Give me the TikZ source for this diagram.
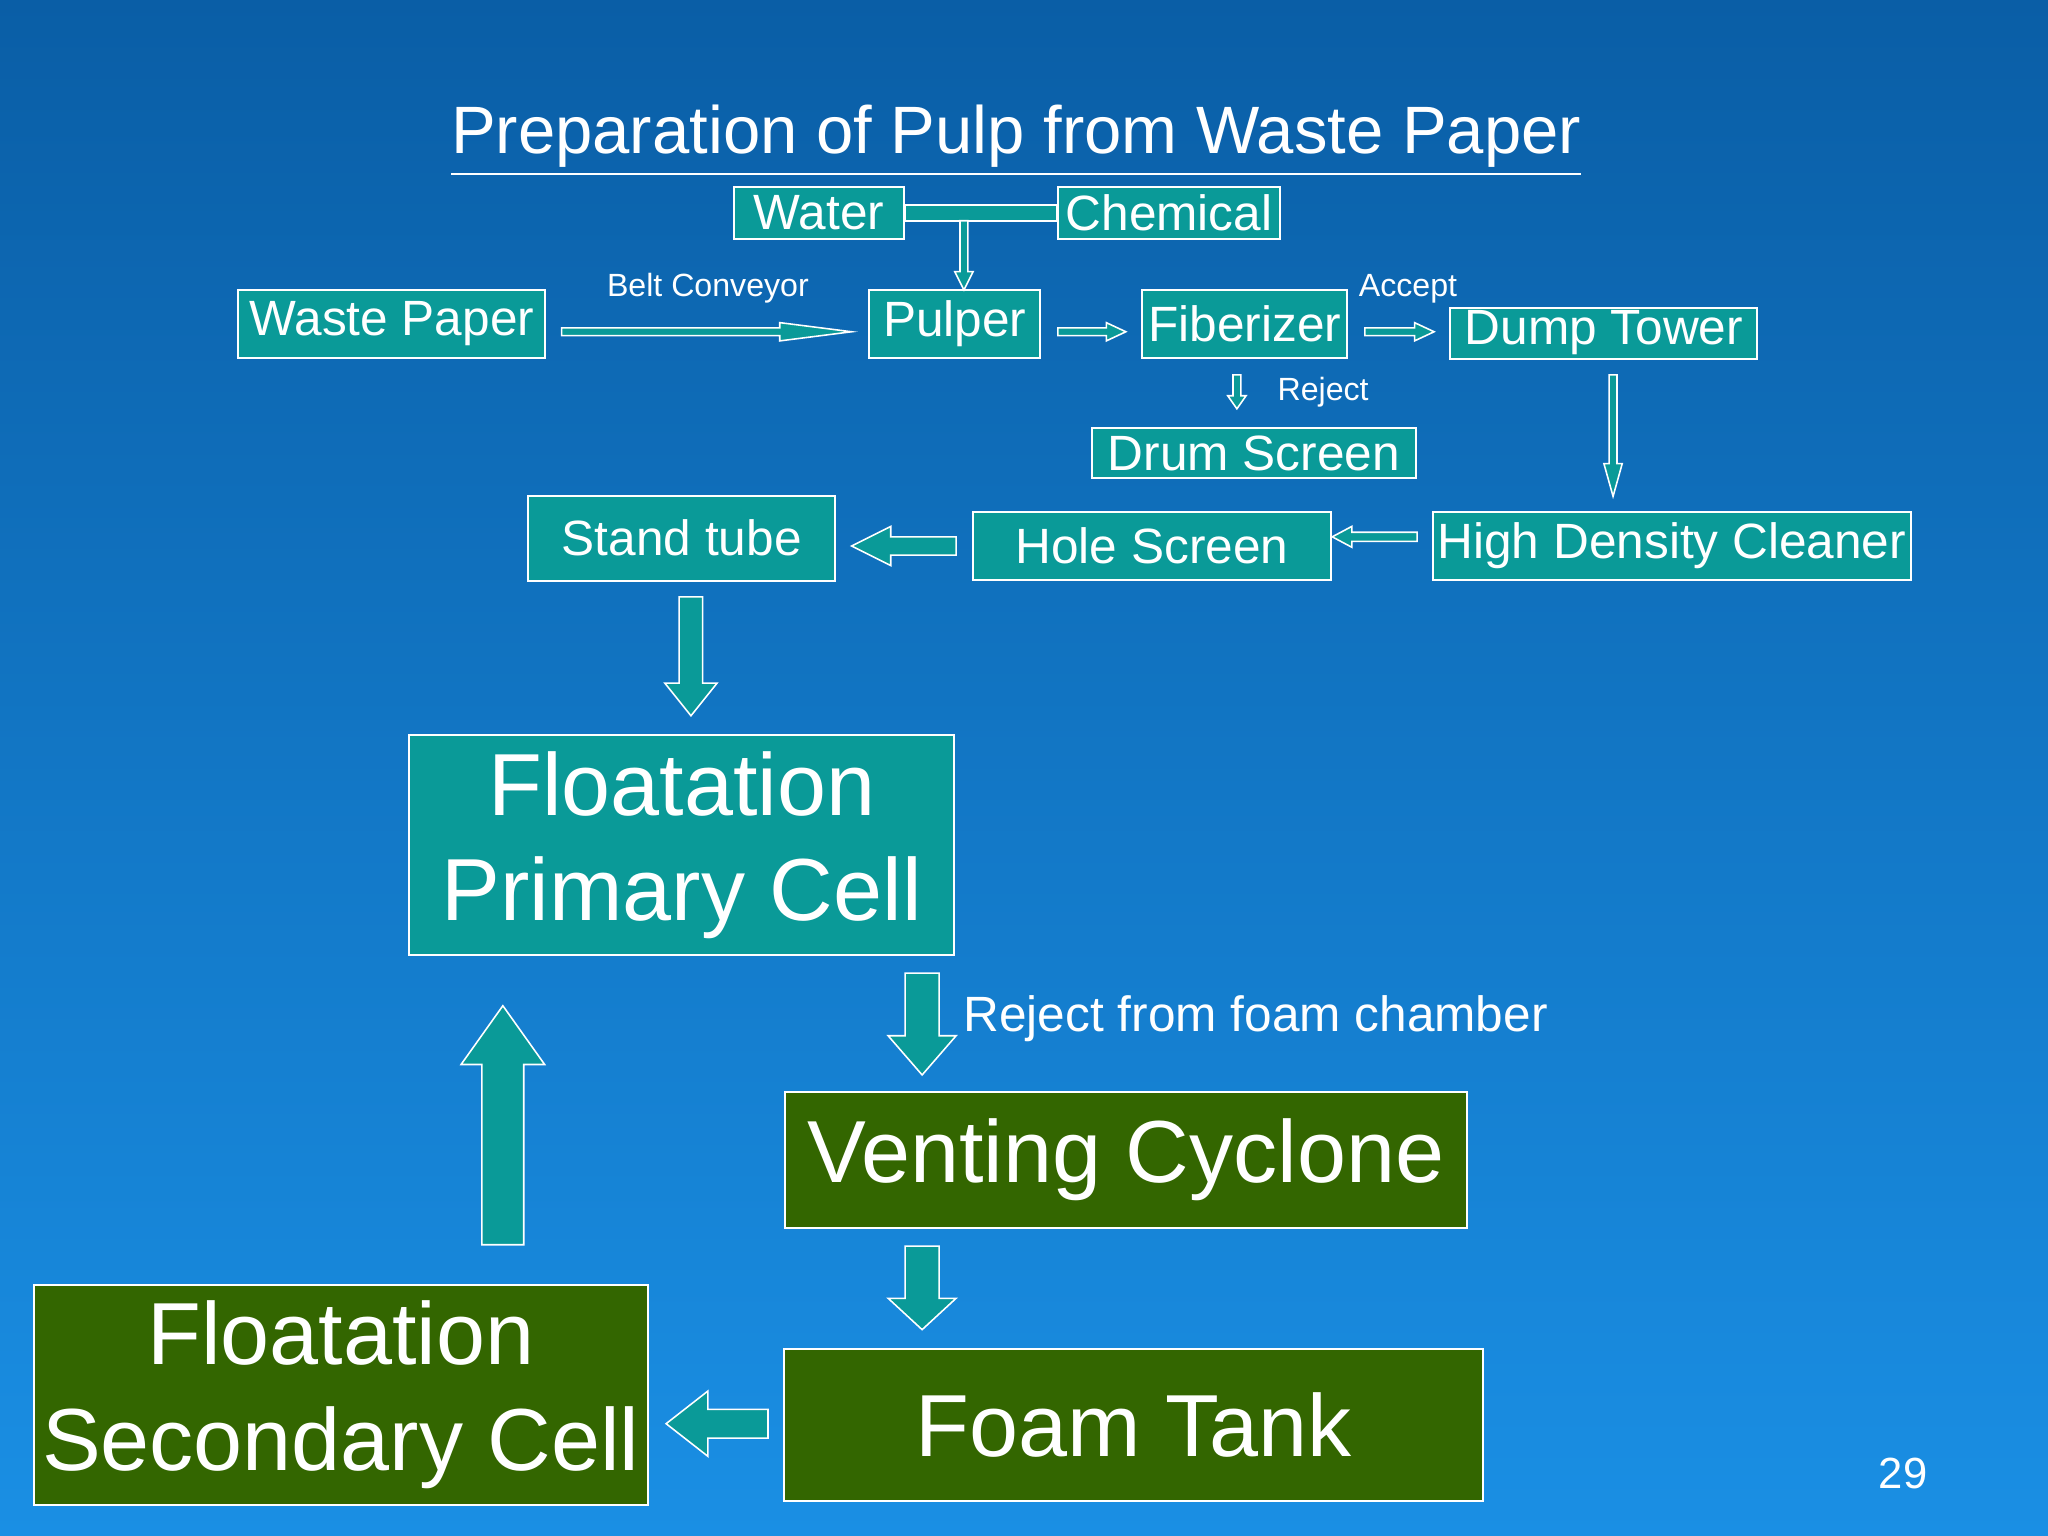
\documentclass[tikz,border=0pt]{standalone}
\usepackage{fontspec}
\setmainfont{Liberation Sans}
\usetikzlibrary{calc}
\definecolor{bgtop}{HTML}{0A5EA6}
\definecolor{bgbot}{HTML}{1A8FE4}
\definecolor{tealbox}{HTML}{0A9A98}
\definecolor{greenbox}{HTML}{336600}
\newcommand\barr[5]{%
 \coordinate (hh) at ($(#2)!#5!(#1)$);
 \draw[arr] ($(#1)!#3!90:(#2)$) -- ($(hh)!#3!90:(#2)$) -- ($(hh)!#4!90:(#2)$) -- (#2) -- ($(hh)!#4!-90:(#2)$) -- ($(hh)!#3!-90:(#2)$) -- ($(#1)!#3!-90:(#2)$) -- cycle;}
\begin{document}
\begin{tikzpicture}[x=0.1mm,y=-0.1mm,
 box/.style={draw=white,line width=0.15mm,fill=tealbox,text=white,inner sep=0pt,font=\fontsize{10.8}{12}\selectfont},
 gbox/.style={box,fill=greenbox},
 big/.style={font=\fontsize{19.2}{23}\selectfont},
 arr/.style={draw=white,line width=0.12mm,fill=tealbox},
 lbl/.style={text=white,inner sep=0pt}]
\shade[top color=bgtop,bottom color=bgbot] (0,0) rectangle (1568,1176);
\useasboundingbox (0,0) rectangle (1568,1176);
\node[lbl,font=\fontsize{14.6}{16}\selectfont] (title) at (778,108) {\underline{Preparation of Pulp from Waste Paper}};
\node[box,minimum width=13mm,minimum height=4mm] (water) at (627,163) {Water};
\node[box,minimum width=17mm,minimum height=4mm] (chem) at (895,163) {Chemical};
\node[box,minimum width=23.5mm,minimum height=5.2mm] (waste) at (300,248) {\raisebox{-0.5mm}{Waste Paper}};
\node[box,minimum width=13.1mm,minimum height=5.2mm] (pulper) at (731,248) {\raisebox{-0.5mm}{Pulper}};
\node[box,minimum width=15.7mm,minimum height=5.2mm] (fib) at (953,248) {\raisebox{-0.5mm}{Fiberizer}};
\node[box,minimum width=23.5mm,minimum height=3.9mm] (dump) at (1228,255) {\raisebox{-0.3mm}{Dump Tower}};
\node[box,minimum width=24.8mm,minimum height=3.8mm] (drum) at (960,347) {Drum Screen};
\node[box,minimum width=36.6mm,minimum height=5.2mm] (hdc) at (1280,418) {\raisebox{-0.3mm}{High Density Cleaner}};
\node[box,minimum width=27.4mm,minimum height=5.2mm] (hole) at (882,418) {\raisebox{-0.2mm}{Hole Screen}};
\node[box,minimum width=23.5mm,minimum height=6.5mm] (stand) at (522,412) {Stand tube};
\node[box,big,minimum width=41.7mm,minimum height=16.9mm,align=center] (fpc) at (522,647) {Floatation\\Primary Cell};
\node[gbox,big,minimum width=52.2mm,minimum height=10.4mm] (vc) at (862,888) {\raisebox{-0.5mm}{Venting Cyclone}};
\node[gbox,big,minimum width=53.5mm,minimum height=11.6mm] (ft) at (868,1091) {Foam Tank};
\node[gbox,big,minimum width=47mm,minimum height=16.9mm,align=center] (fsc) at (261,1068) {Floatation\\Secondary Cell};
\node[lbl,font=\fontsize{7}{8}\selectfont] (belt) at (542,221) {Belt Conveyor};
\node[lbl,font=\fontsize{7}{8}\selectfont] (acc) at (1078,221) {Accept};
\node[lbl,font=\fontsize{7}{8}\selectfont] (rej) at (1013,300) {Reject};
\node[lbl,anchor=west,font=\fontsize{10.8}{12}\selectfont] (rfc) at (737,780) {Reject from foam chamber};
\node[lbl,font=\fontsize{9.5}{10}\selectfont] (pg) at (1457,1128) {29};
\draw[arr] (water.east)++(0,-6) rectangle ($(chem.west)+(0,6)$);
\coordinate (wc1) at (738,169); \coordinate (wc2) at (738,222);
\barr{wc1}{wc2}{0.3mm}{0.7mm}{1.4mm}
\coordinate (a1) at (430,254); \coordinate (a2) at (652,254);
\barr{a1}{a2}{0.3mm}{0.7mm}{5.5mm}
\coordinate (b1) at (810,254); \coordinate (b2) at (862,254);
\barr{b1}{b2}{0.3mm}{0.7mm}{1.5mm}
\coordinate (c1) at (1045,254); \coordinate (c2) at (1098,254);
\barr{c1}{c2}{0.3mm}{0.7mm}{1.5mm}
\coordinate (d1) at (947,287); \coordinate (d2) at (947,313);
\barr{d1}{d2}{0.3mm}{0.7mm}{1mm}
\coordinate (e1) at (1235,287); \coordinate (e2) at (1235,380);
\barr{e1}{e2}{0.3mm}{0.7mm}{2.5mm}
\coordinate (f1) at (1085,411); \coordinate (f2) at (1020,411);
\barr{f1}{f2}{0.35mm}{0.8mm}{1.5mm}
\coordinate (g1) at (732,418); \coordinate (g2) at (652,418);
\barr{g1}{g2}{0.7mm}{1.5mm}{3mm}
\coordinate (h1) at (529,457); \coordinate (h2) at (529,548);
\barr{h1}{h2}{0.9mm}{2mm}{2.5mm}
\coordinate (i1) at (706,745); \coordinate (i2) at (706,823);
\barr{i1}{i2}{1.3mm}{2.6mm}{3mm}
\coordinate (j1) at (706,954); \coordinate (j2) at (706,1018);
\barr{j1}{j2}{1.3mm}{2.6mm}{2.4mm}
\coordinate (k1) at (588,1090); \coordinate (k2) at (510,1090);
\barr{k1}{k2}{1.1mm}{2.5mm}{3.2mm}
\coordinate (l1) at (385,953); \coordinate (l2) at (385,770);
\barr{l1}{l2}{1.6mm}{3.2mm}{4.5mm}
\end{tikzpicture}
\end{document}
